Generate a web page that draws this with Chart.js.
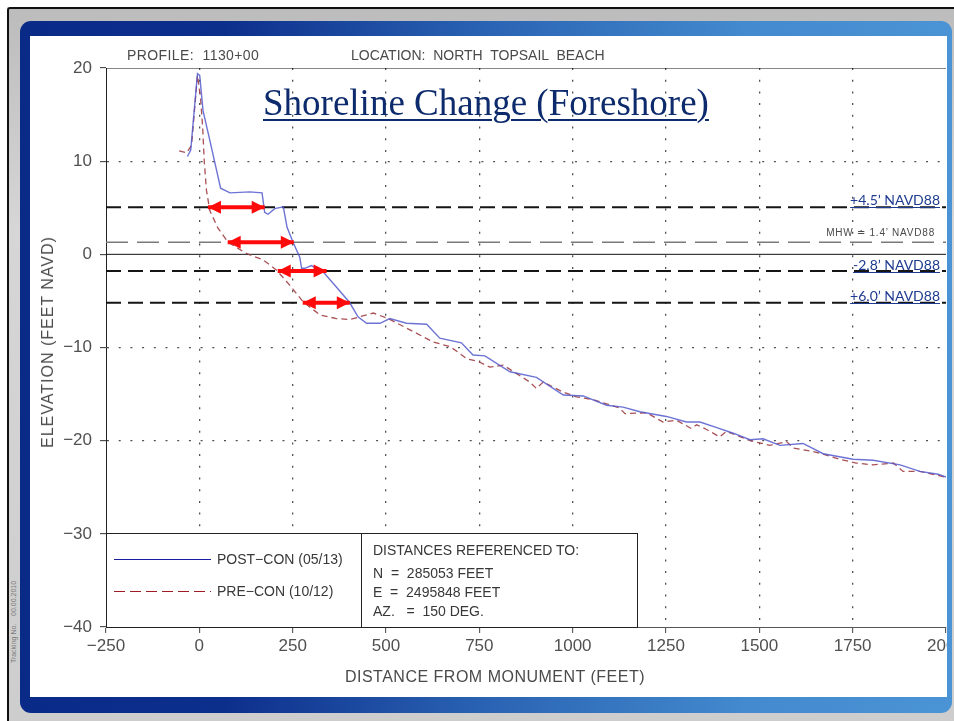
<!DOCTYPE html>
<html>
<head>
<meta charset="utf-8">
<script src="https://cdn.jsdelivr.net/npm/chart.js@4.4.1/dist/chart.umd.min.js"></script>
<style>
  html, body { margin: 0; padding: 0; }
  body { width: 954px; height: 721px; overflow: hidden; position: relative; background: #fff;
         font-family: "Liberation Sans", Arial, sans-serif; }
  .abs { position: absolute; white-space: pre; line-height: 1; }
  #bezel { left: 7px; top: 7px; width: 960px; height: 730px; border-left: 2px solid #111; border-top: 2px solid #111;
           border-radius: 3px 0 0 0; background: linear-gradient(to bottom, #bcbcbc, #d6d6d6 30%, #cdcdcd); }
  #frame { left: 20px; top: 21px; width: 932px; height: 692px; border-radius: 11px;
           background: linear-gradient(to right, #0a2a88 0%, #0d2f8c 22%, #2a63b3 50%, #438ace 78%, #4a93d4 100%); }
  #plot { left: 30px; top: 36px; width: 917px; height: 661px; overflow: hidden; background: #fff; }
  #plot canvas { position: absolute; left: 0; top: 0; }
  .cad { color: #4a4a4a; }
  #title { left: 263px; top: 81px; font: 37px "Liberation Serif", "Times New Roman", serif; color: #0c2a6c;
           text-decoration: underline; text-decoration-thickness: 2px; text-underline-offset: 4px; }
  .nav { left: 780px; width: 160px; text-align: right; font: 14px Lato, "Open Sans", sans-serif; color: #1e3b8f;
         text-decoration: underline; text-underline-offset: 2px; }
  #legend { left: 106px; top: 533px; width: 532px; height: 95px; box-sizing: border-box; border: 1px solid #222; background: #fff; }
  #legend .abs { font-size: 14px; color: #383838; }
</style>
</head>
<body>
<div id="bezel" class="abs"></div>
<div id="frame" class="abs"></div>
<div id="plot" class="abs"><canvas id="profileChart" width="950" height="661"></canvas></div>

<div class="abs cad" style="left:127px;top:48px;font-size:14px;letter-spacing:0.4px;">PROFILE:  1130+00</div>
<div class="abs cad" style="left:351px;top:48px;font-size:14px;">LOCATION:  NORTH  TOPSAIL  BEACH</div>
<div id="title" class="abs">Shoreline Change (Foreshore)</div>

<div class="abs nav" style="top:191px;">+4.5’ NAVD88</div>
<div class="abs cad" style="left:780px;width:155px;text-align:right;top:228px;font-size:10px;letter-spacing:0.8px;">MHW ≐ 1.4’ NAVD88</div>
<div class="abs nav" style="top:256px;">-2.8’ NAVD88</div>
<div class="abs nav" style="top:287px;">+6.0’ NAVD88</div>

<div class="abs cad" style="left:48px;top:342px;font-size:16px;letter-spacing:1px;transform:translate(-50%,-50%) rotate(-90deg);">ELEVATION (FEET NAVD)</div>
<div class="abs cad" style="left:495px;top:677px;font-size:16px;letter-spacing:0.5px;transform:translate(-50%,-50%);">DISTANCE FROM MONUMENT (FEET)</div>
<div class="abs" style="left:13px;top:622px;font-size:7px;color:#7a7a7a;transform:translate(-50%,-50%) rotate(-90deg);">Tracking No.    00.00.2010</div>

<div id="legend" class="abs">
  <div style="position:absolute;left:254px;top:0;bottom:0;width:1px;background:#222;"></div>
  <div style="position:absolute;left:7px;top:25px;width:97px;height:1px;background:#1c1ca0;"></div>
  <div class="abs" style="left:110px;top:18px;">POST−CON (05/13)</div>
  <div style="position:absolute;left:7px;top:57px;width:97px;height:1px;background:repeating-linear-gradient(to right,#a01c22 0 11px,transparent 11px 16px);"></div>
  <div class="abs" style="left:110px;top:50px;">PRE−CON (10/12)</div>
  <div class="abs" style="left:266px;top:9px;">DISTANCES REFERENCED TO:</div>
  <div class="abs" style="left:266px;top:32px;">N  =  285053 FEET</div>
  <div class="abs" style="left:266px;top:51px;">E  =  2495848 FEET</div>
  <div class="abs" style="left:266px;top:70px;">AZ.   =  150 DEG.</div>
</div>

<script>
// 軸の範囲
const xMin = -250, xMax = 2000, xStep = 250;
const yMin = -40, yMax = 20, yStep = 10;
const dottedY = [10, -10, -20];

// POST-CON (05/13) 測量断面
const postX = [-32, -23, -5, 1, 10, 26, 57, 82, 135, 168, 175, 184, 202, 225, 235, 251, 269, 274, 283, 300,
  332, 367, 403, 425, 448, 484, 510, 555, 609, 644, 702, 733, 765, 832, 903, 975, 1028, 1091, 1135, 1180,
  1251, 1305, 1341, 1386, 1430, 1475, 1510, 1555, 1617, 1671, 1751, 1805, 1877, 1930, 1979, 2000];
const postY = [10.5, 11.2, 19.4, 19.2, 15.4, 12.6, 7.1, 6.6, 6.7, 6.6, 4.5, 4.3, 4.9, 5.1, 2.9, 1.3, -0.3, -1.5, -1.5, -1.2,
  -1.9, -3.5, -5.2, -6.7, -7.4, -7.4, -6.9, -7.4, -7.5, -9.0, -9.5, -10.8, -10.9, -12.6, -13.2, -15.1, -15.2, -16.2, -16.4, -16.9,
  -17.4, -18.0, -18.0, -18.6, -19.2, -19.9, -19.8, -20.5, -20.3, -21.4, -22.0, -22.1, -22.6, -23.3, -23.6, -23.9];

// PRE-CON (10/12) 測量断面
const preX = [-54, -34, -21, -5, 3, 9, 13, 19, 28, 50, 77, 126, 171, 207, 242, 278, 323, 367, 403, 466,
  506, 564, 626, 671, 693, 716, 747, 778, 814, 850, 885, 903, 921, 975, 1010, 1055, 1126, 1140, 1198, 1242,
  1278, 1318, 1332, 1354, 1394, 1412, 1475, 1528, 1573, 1591, 1636, 1667, 1716, 1760, 1805, 1859, 1885, 1930, 1997];
const preY = [11.1, 10.9, 11.7, 19.2, 16.9, 13.6, 10.1, 6.9, 4.7, 2.8, 1.3, 0.1, -0.6, -1.7, -3.3, -5.1, -6.5, -6.9, -7.0, -6.3,
  -6.9, -8.1, -9.4, -9.9, -10.5, -11.2, -11.5, -12.1, -11.9, -12.8, -13.7, -14.4, -13.7, -14.8, -15.3, -15.6, -16.5, -17.1, -17.0, -18.0,
  -17.8, -18.7, -18.3, -18.7, -19.6, -19.0, -20.0, -20.5, -20.1, -20.8, -21.1, -21.4, -22.0, -22.4, -22.6, -22.4, -23.3, -23.3, -23.9];

// 基準線（図上の位置）
const refLevels = [5.05, -1.8, -5.2];   // +4.5', -2.8', +6.0' の破線
const mhwLevel = 1.3;                   // MHW
const solidLevels = [20, 0];            // 上枠と 0 の実線

// 赤い両矢印
const arrowLevels = [5.05, 1.3, -1.8, -5.2];
const arrowFrom = [23, 76, 210, 277];
const arrowTo = [175, 253, 341, 403];

const toPts = (xs, ys) => xs.map((x, i) => ({ x, y: ys[i] }));
const span = y => [{ x: xMin, y }, { x: xMax, y }];
const minus = v => (v < 0 ? '−' + Math.abs(v) : String(v));

// 矢じりを描くプラグイン（線の両端に三角形）
const arrowHeads = {
  id: 'arrowHeads',
  afterDatasetsDraw(chart) {
    const ctx = chart.ctx;
    chart.data.datasets.forEach((ds, i) => {
      if (!ds.arrow) return;
      const pts = chart.getDatasetMeta(i).data;
      const a = pts[0], b = pts[pts.length - 1];
      [[a, b], [b, a]].forEach(([tip, from]) => {
        const ang = Math.atan2(tip.y - from.y, tip.x - from.x);
        ctx.save();
        ctx.translate(tip.x, tip.y);
        ctx.rotate(ang);
        ctx.beginPath();
        ctx.moveTo(0, 0);
        ctx.lineTo(-13, -6.5);
        ctx.lineTo(-13, 6.5);
        ctx.closePath();
        ctx.fillStyle = ds.borderColor;
        ctx.fill();
        ctx.restore();
      });
    });
  }
};

const datasets = [];

arrowLevels.forEach((y, i) => {
  datasets.push({
    data: [{ x: arrowFrom[i], y }, { x: arrowTo[i], y }],
    arrow: true, borderColor: '#ff0a0a', borderWidth: 4, pointRadius: 0, order: 0
  });
});

datasets.push({
  label: 'POST-CON (05/13)', data: toPts(postX, postY),
  borderColor: 'rgba(84,90,204,0.85)', borderWidth: 1.4, pointRadius: 0, tension: 0, order: 1
});
datasets.push({
  label: 'PRE-CON (10/12)', data: toPts(preX, preY),
  borderColor: 'rgba(160,62,66,0.9)', borderWidth: 1.3, borderDash: [6, 4], pointRadius: 0, tension: 0, order: 2
});

refLevels.forEach(y => {
  datasets.push({ data: span(y), borderColor: '#151515', borderWidth: 2, borderDash: [15, 7], pointRadius: 0, order: 3 });
});
datasets.push({ data: span(mhwLevel), borderColor: '#7a7a7a', borderWidth: 1.6, borderDash: [22, 9], pointRadius: 0, order: 3 });
solidLevels.forEach(y => {
  datasets.push({ data: span(y), borderColor: '#111', borderWidth: 1, pointRadius: 0, order: 4 });
});

Chart.defaults.font.family = '"Liberation Sans", Arial, sans-serif';

new Chart(document.getElementById('profileChart'), {
  type: 'line',
  data: { datasets },
  options: {
    responsive: false,
    animation: false,
    events: [],
    layout: { padding: { left: 0, top: 32, right: 34, bottom: 0 } },
    plugins: { legend: { display: false }, tooltip: { enabled: false } },
    scales: {
      x: {
        type: 'linear', min: xMin, max: xMax,
        afterFit: s => { s.height = 70; },
        ticks: { stepSize: xStep, autoSkip: false, maxRotation: 0, padding: 3, color: '#505050',
                 font: { size: 17 }, callback: minus },
        grid: {
          color: c => (c.tick && c.tick.value > xMin && c.tick.value < xMax ? '#505050' : 'rgba(0,0,0,0)'),
          lineWidth: 1.3, tickLength: 6, tickColor: '#444', tickWidth: 1
        },
        border: { display: true, color: '#555', width: 1, dash: [2, 9.7] }
      },
      y: {
        min: yMin, max: yMax,
        afterFit: s => { s.width = 76; },
        ticks: { stepSize: yStep, padding: 8, color: '#505050', font: { size: 17 }, callback: minus },
        grid: {
          color: c => (c.tick && dottedY.includes(c.tick.value) ? '#505050' : 'rgba(0,0,0,0)'),
          lineWidth: 1.3, tickLength: 6, tickColor: '#333', tickWidth: 1
        },
        border: { display: true, color: '#222', width: 1, dash: [2, 9.7] }
      }
    }
  },
  plugins: [arrowHeads]
});
</script>
</body>
</html>
